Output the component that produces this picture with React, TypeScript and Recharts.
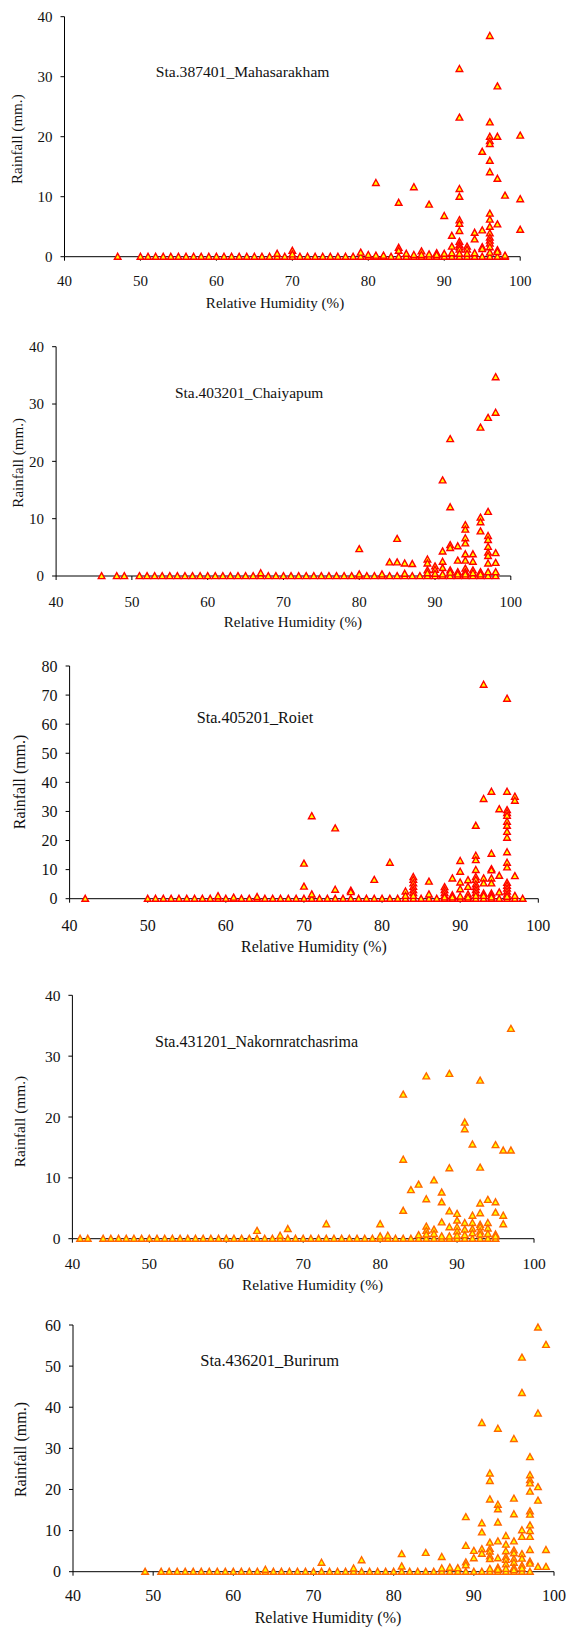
import React from 'react';
import { ScatterChart, Scatter, XAxis, YAxis } from 'recharts';

// ---------- tick labels ----------
const rhTicks = [40, 50, 60, 70, 80, 90, 100];
const rainTicks40 = [0, 10, 20, 30, 40];
const rainTicks60 = [0, 10, 20, 30, 40, 50, 60];
const rainTicks80 = [0, 10, 20, 30, 40, 50, 60, 70, 80];

// ---------- Sta.387401_Mahasarakham ----------
const mahaDryRH = [47, 50, 51, 52, 53, 54, 55, 56, 57, 58, 59, 60, 61, 62, 63, 64, 65, 66, 67, 68, 69, 70, 71, 72, 73, 74, 75, 76, 77, 78, 79, 80, 81, 82, 83, 84, 85, 86, 87, 88, 89, 90, 91, 92, 93, 94, 95, 96, 97, 98];
const mahaWet: [number, number][] = [
  [68, 0.5], [70, 1.0], [70, 0.4], [79, 0.7], [80, 0.3], [81, 12.3], [81, 0.2], [82, 0.2],
  [84, 9.0], [84, 1.5], [84, 1.0], [85, 0.5], [86, 11.6], [86, 0.3], [87, 0.9], [87, 0.3],
  [88, 8.7], [88, 0.4], [89, 0.6], [89, 0.3], [90, 6.8], [90, 0.5], [91, 3.5], [91, 1.7], [91, 0.6],
  [92, 31.3], [92, 23.2], [92, 11.3], [92, 10.0], [92, 6.1], [92, 5.5], [92, 4.3], [92, 2.5], [92, 2.0], [92, 1.6], [92, 1.2], [92, 0.5],
  [93, 1.7], [93, 1.2], [93, 0.5], [94, 4.0], [94, 2.9], [94, 0.6],
  [95, 17.5], [95, 4.4], [95, 1.6], [95, 1.3],
  [96, 36.8], [96, 22.4], [96, 20.0], [96, 19.3], [96, 18.8], [96, 16.0], [96, 14.1], [96, 7.2], [96, 6.2], [96, 5.0], [96, 3.9], [96, 3.2], [96, 2.7], [96, 2.2], [96, 1.6], [96, 0.7],
  [97, 28.4], [97, 20.0], [97, 13.0], [97, 5.4], [97, 1.1], [97, 0.8],
  [98, 10.2], [98, 0.2], [100, 20.2], [100, 9.6], [100, 4.5],
];

// ---------- Sta.403201_Chaiyapum ----------
const chaiDryRH = [46, 48, 49, 51, 52, 53, 54, 55, 56, 57, 58, 59, 60, 61, 62, 63, 64, 65, 66, 67, 68, 69, 70, 71, 72, 73, 74, 75, 76, 77, 78, 79, 80, 81, 82, 83, 84, 85, 86, 87, 88, 89, 90, 91, 92, 93, 94, 95, 96, 97, 98];
const chaiWet: [number, number][] = [
  [67, 0.5], [80, 4.7], [80, 0.3], [83, 0.3], [84, 2.4], [85, 6.5], [85, 2.4], [86, 2.2], [86, 0.4], [87, 2.1],
  [89, 2.9], [89, 2.2], [89, 1.0], [89, 0.5], [90, 1.7], [90, 1.1], [90, 0.4],
  [91, 16.7], [91, 4.3], [91, 2.5], [91, 1.4], [91, 0.3],
  [92, 23.9], [92, 12.0], [92, 5.4], [92, 4.9], [92, 1.0], [92, 0.6],
  [93, 5.2], [93, 2.7], [93, 0.7], [93, 0.3],
  [94, 8.9], [94, 8.1], [94, 6.6], [94, 5.7], [94, 3.8], [94, 2.7], [94, 1.3], [94, 0.7], [94, 0.3],
  [95, 3.8], [95, 2.5], [95, 1.0], [95, 0.5],
  [96, 25.9], [96, 10.2], [96, 9.4], [96, 7.8], [96, 0.7], [96, 0.3],
  [97, 27.6], [97, 11.2], [97, 7.0], [97, 6.3], [97, 5.1], [97, 4.1], [97, 3.5], [97, 2.2], [97, 0.7],
  [98, 34.7], [98, 28.5], [98, 4.0], [98, 2.3], [98, 0.7],
];

// ---------- Sta.405201_Roiet ----------
const roietDryRH = [42, 50, 51, 52, 53, 54, 55, 56, 57, 58, 59, 60, 61, 62, 63, 64, 65, 66, 67, 68, 69, 70, 71, 72, 73, 74, 75, 76, 77, 78, 79, 80, 81, 82, 83, 84, 85, 86, 87, 88, 89, 90, 91, 92, 93, 94, 95, 96, 97, 98];
const roietWet: [number, number][] = [
  [59, 0.9], [61, 0.4], [64, 0.6], [70, 12.1], [70, 4.2], [71, 28.4], [71, 1.5], [74, 24.2], [74, 3.1],
  [76, 2.8], [76, 2.3], [79, 6.5], [81, 12.4], [83, 2.5], [83, 1.0],
  [84, 7.5], [84, 6.5], [84, 5.3], [84, 4.1], [84, 3.0], [84, 2.0], [84, 1.0], [86, 5.9], [86, 1.5],
  [88, 4.0], [88, 3.0], [88, 2.0], [88, 1.0], [88, 0.5], [89, 7.0], [89, 1.2], [89, 0.5],
  [90, 13.0], [90, 9.3], [90, 5.6], [90, 3.3], [90, 0.8], [91, 6.4], [91, 4.1], [91, 1.5], [91, 0.5],
  [92, 25.1], [92, 14.8], [92, 13.3], [92, 9.9], [92, 7.5], [92, 6.5], [92, 5.0], [92, 4.0], [92, 3.0], [92, 2.0], [92, 1.0],
  [93, 73.6], [93, 34.3], [93, 7.0], [93, 5.3], [93, 1.8], [93, 1.0],
  [94, 36.8], [94, 15.5], [94, 10.2], [94, 9.8], [94, 7.0], [94, 5.3], [94, 1.8], [94, 1.0], [94, 0.5],
  [95, 30.8], [95, 7.9], [95, 2.2],
  [96, 68.8], [96, 36.8], [96, 30.5], [96, 29.5], [96, 28.5], [96, 26.5], [96, 25.1], [96, 23.0], [96, 21.0], [96, 16.0], [96, 12.4], [96, 10.8], [96, 5.5], [96, 4.5], [96, 3.5], [96, 2.5], [96, 1.5], [96, 0.7],
  [97, 35.1], [97, 33.7], [97, 7.8], [97, 1.0],
];

// ---------- Sta.431201_Nakornratchasrima ----------
const nakornDryRH = [41, 42, 44, 45, 46, 47, 48, 49, 50, 51, 52, 53, 54, 55, 56, 57, 58, 59, 60, 61, 62, 63, 64, 65, 66, 67, 68, 69, 70, 71, 72, 73, 74, 75, 76, 77, 78, 79, 80, 81, 82, 83, 84, 85, 86, 87, 88, 89, 90, 91, 92, 93, 94, 95];
const nakornWet: [number, number][] = [
  [64, 1.3], [67, 0.5], [68, 1.6], [73, 2.4], [80, 2.4], [80, 0.4], [81, 0.5],
  [83, 23.7], [83, 13.0], [83, 4.6], [84, 8.0], [85, 8.9], [85, 0.6],
  [86, 26.7], [86, 6.5], [86, 2.0], [86, 1.3], [86, 0.7], [87, 9.6], [87, 1.5], [87, 0.8],
  [88, 7.6], [88, 6.0], [88, 2.7], [88, 0.4], [89, 27.1], [89, 11.6], [89, 4.5], [89, 1.9], [89, 0.4],
  [90, 4.1], [90, 3.0], [90, 1.9], [90, 1.2], [90, 0.5], [91, 19.1], [91, 18.0], [91, 2.6], [91, 1.5], [91, 0.6],
  [92, 15.5], [92, 3.8], [92, 2.6], [92, 1.6], [92, 0.9],
  [93, 26.0], [93, 11.7], [93, 5.8], [93, 4.2], [93, 2.3], [93, 1.9], [93, 1.2], [93, 0.7],
  [94, 6.4], [94, 2.6], [94, 1.7], [94, 0.8], [95, 15.4], [95, 6.0], [95, 4.3], [95, 0.7], [95, 0.4],
  [96, 14.5], [96, 3.8], [96, 2.4], [97, 34.5], [97, 14.5],
];

// ---------- Sta.436201_Burirum ----------
const buriDryRH = [49, 51, 52, 53, 54, 55, 56, 57, 58, 59, 60, 61, 62, 63, 64, 65, 66, 67, 68, 69, 70, 71, 72, 73, 74, 75, 76, 77, 78, 79, 80, 81, 82, 83, 84, 85, 86, 87, 88, 89, 90, 91, 92, 93, 94, 95, 96, 97];
const buriWet: [number, number][] = [
  [64, 0.5], [71, 2.2], [75, 0.8], [76, 2.8], [81, 4.3], [81, 1.3], [84, 4.6], [86, 3.6], [86, 0.8], [87, 1.0], [88, 0.9],
  [89, 13.3], [89, 6.3], [89, 2.3], [89, 1.6], [90, 5.1], [90, 3.3],
  [91, 36.2], [91, 11.8], [91, 9.6], [91, 5.5], [91, 4.4],
  [92, 23.9], [92, 22.1], [92, 17.6], [92, 7.1], [92, 5.6], [92, 4.9], [92, 3.8], [92, 3.1], [92, 0.7],
  [93, 34.8], [93, 16.3], [93, 15.2], [93, 12.0], [93, 7.4], [93, 3.3], [93, 1.0], [93, 0.5],
  [94, 8.7], [94, 6.6], [94, 5.0], [94, 3.6], [94, 2.9], [94, 1.8], [94, 0.7],
  [95, 32.3], [95, 17.8], [95, 14.0], [95, 7.4], [95, 5.2], [95, 4.5], [95, 3.1], [95, 2.2], [95, 1.0], [95, 0.4],
  [96, 52.1], [96, 43.5], [96, 10.1], [96, 8.5], [96, 4.3], [96, 3.2], [96, 1.5], [96, 0.8],
  [97, 27.9], [97, 23.5], [97, 22.3], [97, 21.5], [97, 19.5], [97, 14.7], [97, 13.9], [97, 11.3], [97, 9.9], [97, 8.5], [97, 5.3], [97, 2.5], [97, 2.0],
  [98, 59.4], [98, 38.5], [98, 20.6], [98, 17.3], [98, 1.2], [99, 55.2], [99, 5.3], [99, 1.2],
];

const FONT = '"Liberation Serif", "Times New Roman", Times, serif';

type Panel = {
  station: string;
  dry: number[];
  wet: [number, number][];
  yTicks: number[];
  top: number; height: number;
  left: number; right: number; plotTop: number; plotBottom: number;
  font: number; xTickMargin: number; stroke: string;
  labelX: number; labelY: number; labelSize: number;
  xTitleX: number; xTitleY: number; yTitleX: number; yTitleY: number; titleSize: number;
};

const panels: Panel[] = [
  { station: 'Sta.387401_Mahasarakham', dry: mahaDryRH, wet: mahaWet, yTicks: rainTicks40,
    top: 0, height: 320, left: 64.5, right: 520.2, plotTop: 16.7, plotBottom: 256.7,
    font: 15, xTickMargin: 14.7, stroke: '#ff0000',
    labelX: 155.8, labelY: 77, labelSize: 15.6, xTitleX: 275, xTitleY: 307.5, yTitleX: 22.5, yTitleY: 139.2, titleSize: 15.1 },
  { station: 'Sta.403201_Chaiyapum', dry: chaiDryRH, wet: chaiWet, yTicks: rainTicks40,
    top: 320, height: 320, left: 56.1, right: 510.8, plotTop: 26.7, plotBottom: 256,
    font: 15, xTickMargin: 16, stroke: '#ff0000',
    labelX: 175, labelY: 77.5, labelSize: 15.4, xTitleX: 292.9, xTitleY: 307, yTitleX: 23.5, yTitleY: 142.8, titleSize: 15.1 },
  { station: 'Sta.405201_Roiet', dry: roietDryRH, wet: roietWet, yTicks: rainTicks80,
    top: 640, height: 330, left: 69.6, right: 538.3, plotTop: 26, plotBottom: 258.7,
    font: 16, xTickMargin: 17, stroke: '#ff0000',
    labelX: 196.7, labelY: 83, labelSize: 16.2, xTitleX: 313.9, xTitleY: 312, yTitleX: 25, yTitleY: 142, titleSize: 15.9 },
  { station: 'Sta.431201_Nakornratchasrima', dry: nakornDryRH, wet: nakornWet, yTicks: rainTicks40,
    top: 970, height: 328, left: 72.4, right: 534, plotTop: 25.3, plotBottom: 268.7,
    font: 15.5, xTickMargin: 15.5, stroke: '#ff6600',
    labelX: 155, labelY: 77, labelSize: 16, xTitleX: 312.6, xTitleY: 319.5, yTitleX: 24.5, yTitleY: 151.5, titleSize: 15.4 },
  { station: 'Sta.436201_Burirum', dry: buriDryRH, wet: buriWet, yTicks: rainTicks60,
    top: 1290, height: 337, left: 73, right: 554, plotTop: 35, plotBottom: 281.7,
    font: 16, xTickMargin: 14.2, stroke: '#ff6600',
    labelX: 200.3, labelY: 76, labelSize: 16.5, xTitleX: 328, xTitleY: 333, yTitleX: 25.5, yTitleY: 159.5, titleSize: 16 },
];

const makeTriangle = (stroke: string) => (props: any) => {
  const { cx, cy } = props;
  if (cx == null || cy == null) return <g />;
  const w = 3.3;
  return (
    <path
      d={`M${cx},${cy - 3.4} L${cx + w},${cy + 2.6} L${cx - w},${cy + 2.6} Z`}
      fill="#ffff00"
      stroke={stroke}
      strokeWidth={1.4}
      strokeLinejoin="miter"
    />
  );
};

function StationChart({ p }: { p: Panel }) {
  const data = [
    ...p.dry.map((rh) => ({ rh, rain: 0 })),
    ...p.wet.map(([rh, rain]) => ({ rh, rain })),
  ];
  const yMax = p.yTicks[p.yTicks.length - 1];
  const tickStyle = { fontFamily: FONT, fontSize: p.font, fill: '#111' };
  return (
    <div style={{ position: 'absolute', left: 0, top: p.top, width: 568, height: p.height }}>
      <ScatterChart
        width={568}
        height={p.height}
        margin={{ top: p.plotTop, right: 568 - p.right, bottom: 0, left: 0 }}
      >
        <XAxis
          type="number"
          dataKey="rh"
          domain={[40, 100]}
          ticks={rhTicks}
          interval={0}
          height={p.height - p.plotBottom}
          tickSize={4}
          tickMargin={p.xTickMargin}
          axisLine={{ stroke: '#000', strokeWidth: 1 }}
          tickLine={{ stroke: '#000', strokeWidth: 1 }}
          tick={tickStyle}
        />
        <YAxis
          type="number"
          dataKey="rain"
          domain={[0, yMax]}
          ticks={p.yTicks}
          interval={0}
          width={p.left}
          tickSize={4}
          tickMargin={8}
          axisLine={{ stroke: '#000', strokeWidth: 1 }}
          tickLine={{ stroke: '#000', strokeWidth: 1 }}
          tick={tickStyle}
        />
        <Scatter
          data={data}
          isAnimationActive={false}
          shape={makeTriangle(p.stroke)}
        />
        <text x={p.labelX} y={p.labelY} fontFamily={FONT} fontSize={p.labelSize} fill="#111">
          {p.station}
        </text>
        <text x={p.xTitleX} y={p.xTitleY} textAnchor="middle" fontFamily={FONT} fontSize={p.titleSize} fill="#111">
          Relative Humidity (%)
        </text>
        <text
          x={p.yTitleX}
          y={p.yTitleY}
          textAnchor="middle"
          fontFamily={FONT}
          fontSize={p.titleSize}
          fill="#111"
          transform={`rotate(-90, ${p.yTitleX}, ${p.yTitleY})`}
        >
          Rainfall (mm.)
        </text>
      </ScatterChart>
    </div>
  );
}

export default function App() {
  return (
    <div style={{ position: 'absolute', left: 0, top: 0, width: 568, height: 1627, background: '#fff', fontFamily: FONT }}>
      {panels.map((p) => (
        <StationChart key={p.station} p={p} />
      ))}
    </div>
  );
}
